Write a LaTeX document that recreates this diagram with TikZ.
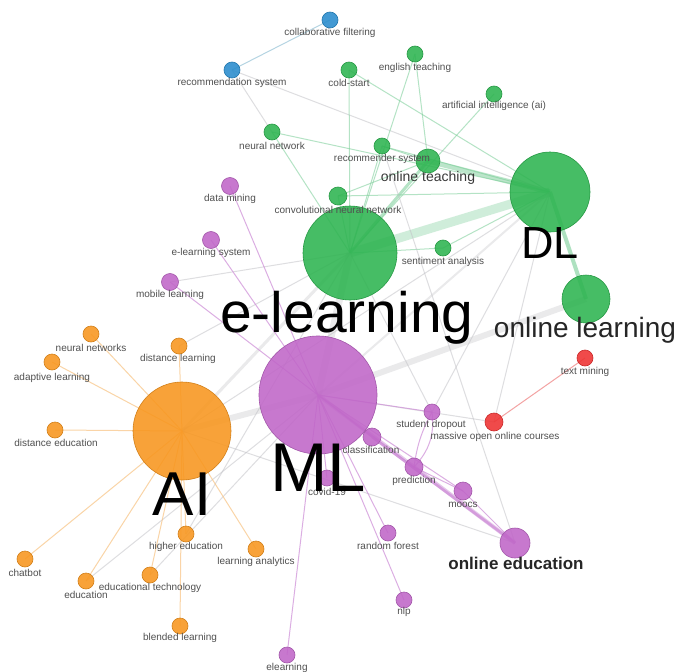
\documentclass[tikz,border=0pt]{standalone}
\usepackage{fontspec}
\setmainfont{Liberation Sans}
\pgfdeclarelayer{edges}
\pgfdeclarelayer{labels}
\pgfsetlayers{edges,main,labels}

\definecolor{kgreen}{RGB}{45,180,80}
\definecolor{kpurple}{RGB}{192,102,200}
\definecolor{korange}{RGB}{248,150,30}
\definecolor{kblue}{RGB}{40,140,205}
\definecolor{kred}{RGB}{238,50,50}
\definecolor{txt}{RGB}{80,80,80}
\definecolor{egreen}{RGB}{120,205,150}
\definecolor{epurple}{RGB}{205,140,215}
\definecolor{eorange}{RGB}{248,195,130}
\definecolor{egray}{RGB}{195,195,200}
\definecolor{eblue}{RGB}{150,195,215}
\definecolor{ered}{RGB}{240,140,140}

\begin{document}
\begin{tikzpicture}[x=1pt,y=-1pt,
  kw/.style={circle, inner sep=0pt, draw=#1!85!black, fill=#1, fill opacity=0.88, line width=0.6pt},
  lbl/.style={font=\fontsize{10}{10}\selectfont, text=txt, inner sep=0pt},
  big/.style={font=\fontsize{#1}{#1}\selectfont, text=black, inner sep=0pt},
  ge/.style={draw=egreen, opacity=0.55, line width=1pt},
  pe/.style={draw=epurple, opacity=0.7, line width=1pt},
  oe/.style={draw=eorange, opacity=0.7, line width=1pt},
  gy/.style={draw=egray, opacity=0.55, line width=1pt},
  be/.style={draw=eblue, opacity=0.7, line width=1pt},
  re/.style={draw=ered, opacity=0.8, line width=1pt},
  band/.style={draw=egray, opacity=0.35, line width=#1}]

\useasboundingbox (0,0) rectangle (681,672);

% ---- keyword nodes ----
% blue cluster
\node[kw=kblue, minimum size=16pt] (cf) at (330,20) {};
\node[kw=kblue, minimum size=16pt] (rs) at (232,70) {};
% green cluster
\node[kw=kgreen, minimum size=16pt] (cs) at (349,70) {};
\node[kw=kgreen, minimum size=16pt] (et) at (415,54) {};
\node[kw=kgreen, minimum size=16pt] (aii) at (494,94) {};
\node[kw=kgreen, minimum size=16pt] (nn) at (272,132) {};
\node[kw=kgreen, minimum size=16pt] (recs) at (382,146) {};
\node[kw=kgreen, minimum size=24pt] (ot) at (428,161) {};
\node[kw=kgreen, minimum size=18pt] (cnn) at (338,196) {};
\node[kw=kgreen, minimum size=16pt] (sa) at (443,248) {};
\node[kw=kgreen, minimum size=94pt] (el) at (350,253) {};
\node[kw=kgreen, minimum size=80pt] (dl) at (550,192) {};
\node[kw=kgreen, minimum size=48pt] (ol) at (586,299) {};
% red cluster
\node[kw=kred, minimum size=16pt] (tm) at (585,358) {};
\node[kw=kred, minimum size=18pt] (mooc) at (494,422) {};
% purple cluster
\node[kw=kpurple, minimum size=118pt] (ml) at (318,395) {};
\node[kw=kpurple, minimum size=17pt] (dm) at (230,186) {};
\node[kw=kpurple, minimum size=17pt] (els) at (211,240) {};
\node[kw=kpurple, minimum size=17pt] (mob) at (170,282) {};
\node[kw=kpurple, minimum size=16pt] (sd) at (432,412) {};
\node[kw=kpurple, minimum size=18pt] (cls) at (372,437) {};
\node[kw=kpurple, minimum size=18pt] (pred) at (414,467) {};
\node[kw=kpurple, minimum size=18pt] (moocs) at (463,491) {};
\node[kw=kpurple, minimum size=30pt] (oed) at (515,543) {};
\node[kw=kpurple, minimum size=16pt] (rf) at (388,533) {};
\node[kw=kpurple, minimum size=16pt] (nlp) at (404,600) {};
\node[kw=kpurple, minimum size=16pt] (cov) at (327,478) {};
\node[kw=kpurple, minimum size=16pt] (elr) at (287,655) {};
% orange cluster
\node[kw=korange, minimum size=98pt] (ai) at (182,431) {};
\node[kw=korange, minimum size=16pt] (nns) at (91,334) {};
\node[kw=korange, minimum size=16pt] (al) at (52,362) {};
\node[kw=korange, minimum size=16pt] (dlr) at (179,346) {};
\node[kw=korange, minimum size=16pt] (de) at (55,430) {};
\node[kw=korange, minimum size=16pt] (cb) at (25,559) {};
\node[kw=korange, minimum size=16pt] (edu) at (86,581) {};
\node[kw=korange, minimum size=16pt] (edt) at (150,575) {};
\node[kw=korange, minimum size=16pt] (he) at (186,534) {};
\node[kw=korange, minimum size=16pt] (la) at (256,549) {};
\node[kw=korange, minimum size=16pt] (bl) at (180,626) {};

% ---- links ----
\begin{pgfonlayer}{edges}
\fill[white] (0,0) rectangle (681,672);
% strong links
\draw[band=7pt] (ml.center) -- (el.center);
\draw[band=6pt] (ml.center) -- (ol.center);
\draw[band=6pt] (ml.center) -- (ai.center);
\draw[band=3pt] (ai.center) -- (el.center);
\draw[band=2pt] (ml.center) -- (dl.center);
\draw[ge, line width=9pt, opacity=0.35] (el.center) -- (dl.center);
\draw[ge, line width=5pt, opacity=0.5] (ot.center) -- (dl.center);
\draw[ge, line width=4pt, opacity=0.6] (dl.center) -- (ol.center);
\draw[ge, line width=3pt] (el.center) -- (ot.center);
\draw[pe, line width=4pt, opacity=0.5] (ml.center) -- (oed.center);
\draw[pe, line width=2.5pt] (cls.center) -- (oed.center);
% blue
\draw[be] (cf.center) -- (rs.center);
\draw[gy] (rs.center) -- (nn.center);
\draw[gy] (rs.center) -- (dl.center);
% green
\foreach \n in {nn,cs,et,aii,recs,cnn,sa}
  \draw[ge] (el.center) -- (\n.center);
\foreach \n in {nn,recs,cnn,sa,cs}
  \draw[ge] (dl.center) -- (\n.center);
\draw[ge] (et.center) -- (ot.center);
\draw[ge] (recs.center) -- (ot.center);
\draw[ge] (cnn.center) -- (ot.center);
% grey cross links
\draw[gy] (ai.center) -- (dl.center);
\draw[gy] (ai.center) -- (oed.center);
\draw[gy] (edt.center) -- (ml.center);
\draw[gy] (edu.center) -- (ml.center);
\draw[gy] (he.center) -- (el.center);
\draw[gy] (recs.center) -- (oed.center);
\draw[gy] (sd.center) -- (dl.center);
\draw[gy] (sd.center) -- (el.center);
\draw[gy] (mooc.center) -- (dl.center);
\draw[gy] (mooc.center) -- (ml.center);
\draw[gy] (dlr.center) -- (el.center);
\draw[gy] (mob.center) -- (el.center);
% red
\draw[re] (mooc.center) -- (tm.center);
% purple
\foreach \n in {dm,els,mob,sd,cls,pred,moocs,cov,rf,nlp,elr}
  \draw[pe] (ml.center) -- (\n.center);
\draw[pe] (pred.center) -- (moocs.center);
\draw[pe] (moocs.center) -- (oed.center);
\draw[pe] (sd.center) to[bend left=25] (pred.center);
\draw[pe] (sd.center) to[bend right=10] (pred.center);
% orange
\foreach \n in {nns,al,dlr,de,cb,edu,edt,he,la,bl}
  \draw[oe] (ai.center) -- (\n.center);
\end{pgfonlayer}

% ---- labels ----
\begin{pgfonlayer}{labels}
\node[lbl] (t-cf) at (330,33) {collaborative filtering};
\node[lbl] (t-rs) at (232,83) {recommendation system};
\node[lbl] (t-cs) at (349,83) {cold-start};
\node[lbl] (t-et) at (415,68) {english teaching};
\node[lbl] (t-aii) at (494,106) {artificial intelligence (ai)};
\node[lbl] (t-nn) at (272,146) {neural network};
\node[lbl] (t-recs) at (382,159) {recommender system};
\node[lbl] (t-cnn) at (338,210) {convolutional neural network};
\node[lbl] (t-sa) at (443,262) {sentiment analysis};
\node[lbl] (t-tm) at (585,372) {text mining};
\node[lbl] (t-sd) at (431,425) {student dropout};
\node[lbl] (t-mooc) at (495,437) {massive open online courses};
\node[lbl] (t-dm) at (230,199) {data mining};
\node[lbl] (t-els) at (211,253) {e-learning system};
\node[lbl] (t-mob) at (170,295) {mobile learning};
\node[lbl] (t-cls) at (371,450) {classification};
\node[lbl] (t-pred) at (414,481) {prediction};
\node[lbl] (t-moocs) at (463,505) {moocs};
\node[lbl] (t-rf) at (388,546) {random forest};
\node[lbl] (t-nlp) at (404,612) {nlp};
\node[lbl] (t-cov) at (327,492) {covid-19};
\node[lbl] (t-elr) at (287,668) {elearning};
\node[lbl] (t-nns) at (91,348) {neural networks};
\node[lbl] (t-al) at (52,378) {adaptive learning};
\node[lbl] (t-dlr) at (178,359) {distance learning};
\node[lbl] (t-de) at (56,443) {distance education};
\node[lbl] (t-cb) at (25,573) {chatbot};
\node[lbl] (t-edu) at (86,595) {education};
\node[lbl] (t-edt) at (150,588) {educational technology};
\node[lbl] (t-he) at (186,547) {higher education};
\node[lbl] (t-la) at (256,562) {learning analytics};
\node[lbl] (t-bl) at (180,638) {blended learning};
% main topic labels
\node[big=14, text=txt!70!black] (t-ot) at (428,178) {online teaching};
\node[big=17, font=\fontsize{17}{17}\selectfont\bfseries, text=black!85] (t-oed) at (516,563) {online education};
\node[big=28, text=black!85] (t-ol) at (585,330) {online learning};
\node[big=45] (t-dl) at (550,243) {DL};
\node[big=57] (t-el) at (347,318) {e-learning};
\node[big=69] (t-ml) at (318,468) {ML};
\node[big=62] (t-ai) at (182,494) {AI};
\end{pgfonlayer}
\end{tikzpicture}
\end{document}
